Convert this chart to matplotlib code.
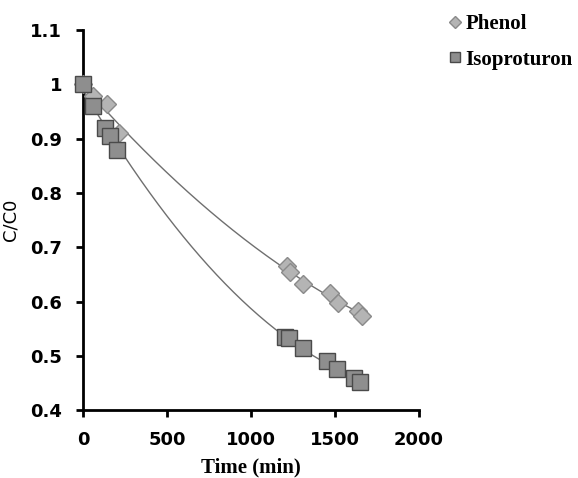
import numpy as np
import matplotlib
matplotlib.use("Agg")
import matplotlib.pyplot as plt

# points
phenol_t = [0, 60, 140, 215, 1215, 1232, 1310, 1470, 1518, 1637, 1660]
phenol_c = [1.0, 0.978, 0.963, 0.91, 0.665, 0.655, 0.632, 0.615, 0.598, 0.582, 0.573]
iso_t = [0, 60, 130, 160, 205, 1200, 1225, 1310, 1455, 1510, 1615, 1650]
iso_c = [1.0, 0.96, 0.92, 0.905, 0.88, 0.535, 0.533, 0.515, 0.49, 0.476, 0.46, 0.452]

xticks = [0, 500, 1000, 1500, 2000]
yticks = [0.4, 0.5, 0.6, 0.7, 0.8, 0.9, 1.0, 1.1]
ylabels = ["0.4", "0.5", "0.6", "0.7", "0.8", "0.9", "1", "1.1"]

fig = plt.figure(figsize=(5.78, 4.78), dpi=100)
ax = fig.add_axes([0.1436, 0.142, 0.5814, 0.795])

# courbes de tendance (polynôme d'ordre 2)
for t, c in [(phenol_t, phenol_c), (iso_t, iso_c)]:
    p = np.polyfit(t, c, 2)
    xs = np.linspace(0, max(t), 200)
    ax.plot(xs, np.polyval(p, xs), color="#6f6f6f", lw=1.0, zorder=2)

ax.plot(phenol_t, phenol_c, ls="none", marker="D", ms=9.5, mfc="#b4b4b4",
        mec="#8a8a8a", mew=1.0, label="Phenol", zorder=3, clip_on=False)
ax.plot(iso_t, iso_c, ls="none", marker="s", ms=12, mfc="#8e8e8e",
        mec="#4a4a4a", mew=1.0, label="Isoproturon", zorder=4, clip_on=False)

ax.set_xlim(0, 2000)
ax.set_ylim(0.4, 1.1)
ax.set_xticks(xticks)
ax.set_yticks(yticks)
ax.set_yticklabels(ylabels)
for s in ["top", "right"]:
    ax.spines[s].set_visible(False)
for s in ["left", "bottom"]:
    ax.spines[s].set_linewidth(2)
ax.tick_params(width=2, length=5, labelsize=13, pad=10)
for lab in ax.get_xticklabels() + ax.get_yticklabels():
    lab.set_fontweight("bold")

ax.set_xlabel("Time (min)", family="Liberation Serif", fontweight="bold", fontsize=15, labelpad=6)
ax.set_ylabel("C/C0", fontsize=13, labelpad=8)

leg = ax.legend(loc="upper left", bbox_to_anchor=(0.74, 1.01), bbox_transform=fig.transFigure,
                frameon=False, handlelength=0.8, handletextpad=0.1, labelspacing=0.75,
                prop={"family": "Liberation Serif", "weight": "bold", "size": 15},
                markerscale=0.6)

fig.savefig("out.png", dpi=100)
